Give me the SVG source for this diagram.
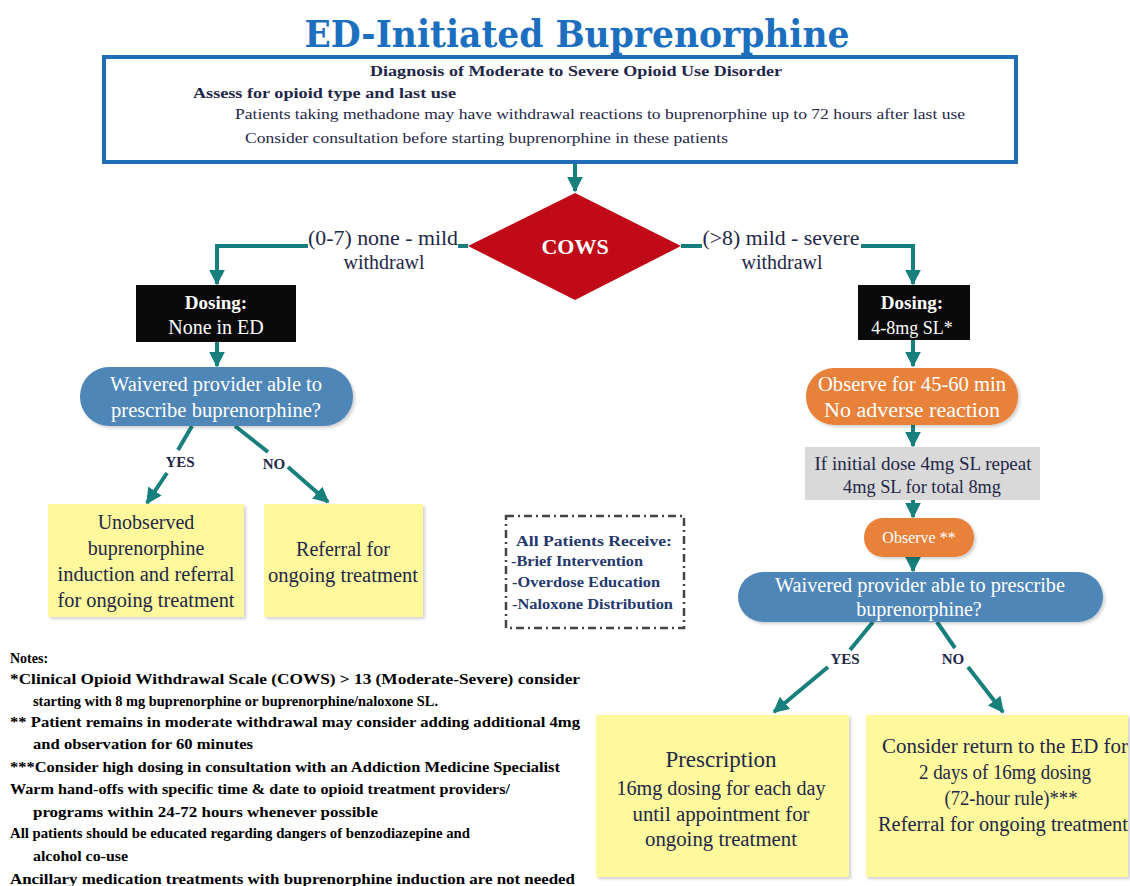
<svg xmlns="http://www.w3.org/2000/svg" width="1130" height="886" viewBox="0 0 1130 886">
<defs>
<marker id="ah" viewBox="0 0 10 10" refX="9" refY="5" markerWidth="4" markerHeight="4" orient="auto-start-reverse">
<path d="M0,0 L10,5 L0,10 Z" fill="#17807D"/>
</marker>
<filter id="sh" x="-5%" y="-5%" width="115%" height="115%">
<feDropShadow dx="2" dy="2" stdDeviation="1.5" flood-color="#000" flood-opacity="0.18"/>
</filter>
</defs>
<style>
.t{font-family:"Liberation Serif","Times New Roman",serif;fill:#1F2748}
.w{font-family:"Liberation Serif","Times New Roman",serif;fill:#FFFFFF}
.c{stroke:#17807D;stroke-width:4;fill:none;marker-end:url(#ah)}
.ln{stroke:#17807D;stroke-width:4;fill:none}
.y{fill:#FDF99C;filter:url(#sh)}
.n{font-family:"Liberation Serif","Times New Roman",serif;font-weight:bold;fill:#000;font-size:14px}
.ap{font-family:"Liberation Serif","Times New Roman",serif;font-weight:bold;fill:#24386B;font-size:15px}
</style>
<rect width="1130" height="886" fill="#FFFFFF"/>

<text x="577" y="47" text-anchor="middle" font-family="DejaVu Serif, serif" font-weight="bold" font-size="38" fill="#1C6FBF" textLength="545" lengthAdjust="spacingAndGlyphs">ED-Initiated Buprenorphine</text>

<g id="connectors">
<line class="c" x1="575" y1="162" x2="575" y2="191"/>
<polyline class="ln" points="468,246 458,246"/>
<polyline class="c" points="308,246 217,246 217,284"/>
<polyline class="ln" points="681,246 702,246"/>
<polyline class="c" points="861,246 913,246 913,284"/>
<line class="c" x1="217" y1="342" x2="217" y2="366"/>
<line class="ln" x1="192" y1="426" x2="178" y2="450"/>
<line class="c" x1="167" y1="473" x2="147" y2="503"/>
<line class="ln" x1="235" y1="426" x2="268" y2="452"/>
<line class="c" x1="288" y1="467" x2="328" y2="502"/>
<line class="c" x1="913" y1="340" x2="913" y2="366"/>
<line class="c" x1="913" y1="425" x2="913" y2="446"/>
<line class="c" x1="913" y1="500" x2="913" y2="517"/>
<line class="c" x1="913" y1="557" x2="913" y2="571"/>
<line class="ln" x1="873" y1="622" x2="850" y2="650"/>
<line class="c" x1="828" y1="667" x2="774" y2="712"/>
<line class="ln" x1="937" y1="622" x2="955" y2="648"/>
<line class="c" x1="968" y1="667" x2="1003" y2="712"/>
<text class="t" x="383" y="245" text-anchor="middle" font-size="20" textLength="150" lengthAdjust="spacingAndGlyphs">(0-7) none - mild</text>
<text class="t" x="384" y="269" text-anchor="middle" font-size="20">withdrawl</text>
<text class="t" x="781" y="245" text-anchor="middle" font-size="20" textLength="157" lengthAdjust="spacingAndGlyphs">(&gt;8) mild - severe</text>
<text class="t" x="782" y="269" text-anchor="middle" font-size="20">withdrawl</text>
<text class="t" x="180" y="467" text-anchor="middle" font-size="15" font-weight="bold">YES</text>
<text class="t" x="274" y="469" text-anchor="middle" font-size="15" font-weight="bold">NO</text>
<text class="t" x="845" y="664" text-anchor="middle" font-size="15" font-weight="bold">YES</text>
<text class="t" x="953" y="664" text-anchor="middle" font-size="15" font-weight="bold">NO</text>
</g>

<g id="diagnosis">
<rect x="104" y="57" width="912" height="105" fill="#FFFFFF" stroke="#1E6DB6" stroke-width="4"/>
<text class="t" x="576" y="76" text-anchor="middle" font-size="15" font-weight="bold" textLength="412" lengthAdjust="spacingAndGlyphs">Diagnosis of Moderate to Severe Opioid Use Disorder</text>
<text class="t" x="193" y="98" font-size="15" font-weight="bold" textLength="263" lengthAdjust="spacingAndGlyphs">Assess for opioid type and last use</text>
<text class="t" x="235" y="119" font-size="14" textLength="730" lengthAdjust="spacingAndGlyphs">Patients taking methadone may have withdrawal reactions to buprenorphine up to 72 hours after last use</text>
<text class="t" x="245" y="143" font-size="15" textLength="483" lengthAdjust="spacingAndGlyphs">Consider consultation before starting buprenorphine in these patients</text>
</g>

<g id="cows">
<polygon points="575,193 681,246 575,300 468,246" fill="#C00A18"/>
<text class="w" x="575" y="254" text-anchor="middle" font-size="22" font-weight="bold">COWS</text>
</g>

<g id="dosing-none">
<rect x="136" y="285" width="160" height="57" fill="#0A0A0A"/>
<text class="w" x="216" y="309" text-anchor="middle" font-size="19" font-weight="bold">Dosing:</text>
<text class="w" x="216" y="334" text-anchor="middle" font-size="20">None in ED</text>
</g>

<g id="dosing-sl">
<rect x="858" y="285" width="112" height="55" fill="#0A0A0A"/>
<text class="w" x="912" y="309" text-anchor="middle" font-size="19" font-weight="bold">Dosing:</text>
<text class="w" x="912" y="334" text-anchor="middle" font-size="18">4-8mg SL*</text>
</g>

<g id="waiver-left">
<rect x="80" y="367" width="273" height="59" rx="29" fill="#4F86B8" filter="url(#sh)"/>
<text class="w" x="216" y="391" text-anchor="middle" font-size="20" textLength="212" lengthAdjust="spacingAndGlyphs">Waivered provider able to</text>
<text class="w" x="216" y="417" text-anchor="middle" font-size="20" textLength="210" lengthAdjust="spacingAndGlyphs">prescribe buprenorphine?</text>
</g>

<g id="unobserved">
<rect class="y" x="48" y="504" width="196" height="113"/>
<text class="t" x="146" y="529" text-anchor="middle" font-size="20">Unobserved</text>
<text class="t" x="146" y="555" text-anchor="middle" font-size="20">buprenorphine</text>
<text class="t" x="146" y="581" text-anchor="middle" font-size="20" textLength="177" lengthAdjust="spacingAndGlyphs">induction and referral</text>
<text class="t" x="146" y="607" text-anchor="middle" font-size="20" textLength="177" lengthAdjust="spacingAndGlyphs">for ongoing treatment</text>
</g>

<g id="referral-left">
<rect class="y" x="264" y="504" width="159" height="113"/>
<text class="t" x="343" y="556" text-anchor="middle" font-size="20">Referral for</text>
<text class="t" x="343" y="582" text-anchor="middle" font-size="20" textLength="150" lengthAdjust="spacingAndGlyphs">ongoing treatment</text>
</g>

<g id="all-patients">
<rect x="506" y="516" width="178" height="112" fill="none" stroke="#444" stroke-width="2.5" stroke-dasharray="8,4,2,4"/>
<text class="ap" x="516" y="546" textLength="156" lengthAdjust="spacingAndGlyphs">All Patients Receive:</text>
<text class="ap" x="511" y="566" textLength="132" lengthAdjust="spacingAndGlyphs">-Brief Intervention</text>
<text class="ap" x="512" y="587" textLength="148" lengthAdjust="spacingAndGlyphs">-Overdose Education</text>
<text class="ap" x="512" y="609" textLength="161" lengthAdjust="spacingAndGlyphs">-Naloxone Distribution</text>
</g>

<g id="observe-45">
<rect x="806" y="368" width="212" height="57" rx="28" fill="#E8823A" filter="url(#sh)"/>
<text class="w" x="912" y="391" text-anchor="middle" font-size="20" textLength="188" lengthAdjust="spacingAndGlyphs">Observe for 45-60 min</text>
<text class="w" x="912" y="417" text-anchor="middle" font-size="20" textLength="176" lengthAdjust="spacingAndGlyphs">No adverse reaction</text>
</g>

<g id="repeat-dose">
<rect x="805" y="447" width="235" height="53" fill="#D9D9D9"/>
<text class="t" x="923" y="470" text-anchor="middle" font-size="18" textLength="217" lengthAdjust="spacingAndGlyphs">If initial dose 4mg SL repeat</text>
<text class="t" x="922" y="493" text-anchor="middle" font-size="18" textLength="158" lengthAdjust="spacingAndGlyphs">4mg SL for total 8mg</text>
</g>

<g id="observe-2">
<rect x="864" y="518" width="110" height="39" rx="19" fill="#E8823A" filter="url(#sh)"/>
<text class="w" x="919" y="543" text-anchor="middle" font-size="16">Observe **</text>
</g>

<g id="waiver-right">
<rect x="738" y="572" width="365" height="50" rx="25" fill="#4F86B8" filter="url(#sh)"/>
<text class="w" x="920" y="592" text-anchor="middle" font-size="20" textLength="290" lengthAdjust="spacingAndGlyphs">Waivered provider able to prescribe</text>
<text class="w" x="919" y="616" text-anchor="middle" font-size="20">buprenorphine?</text>
</g>

<g id="prescription">
<rect class="y" x="596" y="715" width="253" height="162"/>
<text class="t" x="721" y="767" text-anchor="middle" font-size="23">Prescription</text>
<text class="t" x="721" y="795" text-anchor="middle" font-size="20" textLength="209" lengthAdjust="spacingAndGlyphs">16mg dosing for each day</text>
<text class="t" x="721" y="821" text-anchor="middle" font-size="20" textLength="177" lengthAdjust="spacingAndGlyphs">until appointment for</text>
<text class="t" x="721" y="846" text-anchor="middle" font-size="20" textLength="152" lengthAdjust="spacingAndGlyphs">ongoing treatment</text>
</g>

<g id="return-ed">
<rect class="y" x="866" y="715" width="262" height="162"/>
<text class="t" x="1005" y="753" text-anchor="middle" font-size="20" textLength="246" lengthAdjust="spacingAndGlyphs">Consider return to the ED for</text>
<text class="t" x="1005" y="779" text-anchor="middle" font-size="20" textLength="172" lengthAdjust="spacingAndGlyphs">2 days of 16mg dosing</text>
<text class="t" x="1011" y="805" text-anchor="middle" font-size="20" textLength="133" lengthAdjust="spacingAndGlyphs">(72-hour rule)***</text>
<text class="t" x="1003" y="831" text-anchor="middle" font-size="20" textLength="250" lengthAdjust="spacingAndGlyphs">Referral for ongoing treatment</text>
</g>

<g id="notes">
<text class="n" x="10" y="663">Notes:</text>
<text class="n" x="10" y="684" textLength="570" lengthAdjust="spacingAndGlyphs">*Clinical Opioid Withdrawal Scale (COWS) &gt; 13 (Moderate-Severe) consider</text>
<text class="n" x="33" y="706" textLength="405" lengthAdjust="spacingAndGlyphs">starting with 8 mg buprenorphine or buprenorphine/naloxone SL.</text>
<text class="n" x="10" y="727" textLength="570" lengthAdjust="spacingAndGlyphs">** Patient remains in moderate withdrawal may consider adding additional 4mg</text>
<text class="n" x="33" y="749" textLength="220" lengthAdjust="spacingAndGlyphs">and observation for 60 minutes</text>
<text class="n" x="10" y="772" textLength="550" lengthAdjust="spacingAndGlyphs">***Consider high dosing in consultation with an Addiction Medicine Specialist</text>
<text class="n" x="10" y="794" textLength="500" lengthAdjust="spacingAndGlyphs">Warm hand-offs with specific time &amp; date to opioid treatment providers/</text>
<text class="n" x="33" y="817" textLength="345" lengthAdjust="spacingAndGlyphs">programs within 24-72 hours whenever possible</text>
<text class="n" x="10" y="838" font-size="12" textLength="460" lengthAdjust="spacingAndGlyphs">All patients should be educated regarding dangers of benzodiazepine and</text>
<text class="n" x="33" y="861" font-size="12" textLength="95" lengthAdjust="spacingAndGlyphs">alcohol co-use</text>
<text class="n" x="10" y="884" textLength="565" lengthAdjust="spacingAndGlyphs">Ancillary medication treatments with buprenorphine induction are not needed</text>
</g>
</svg>
